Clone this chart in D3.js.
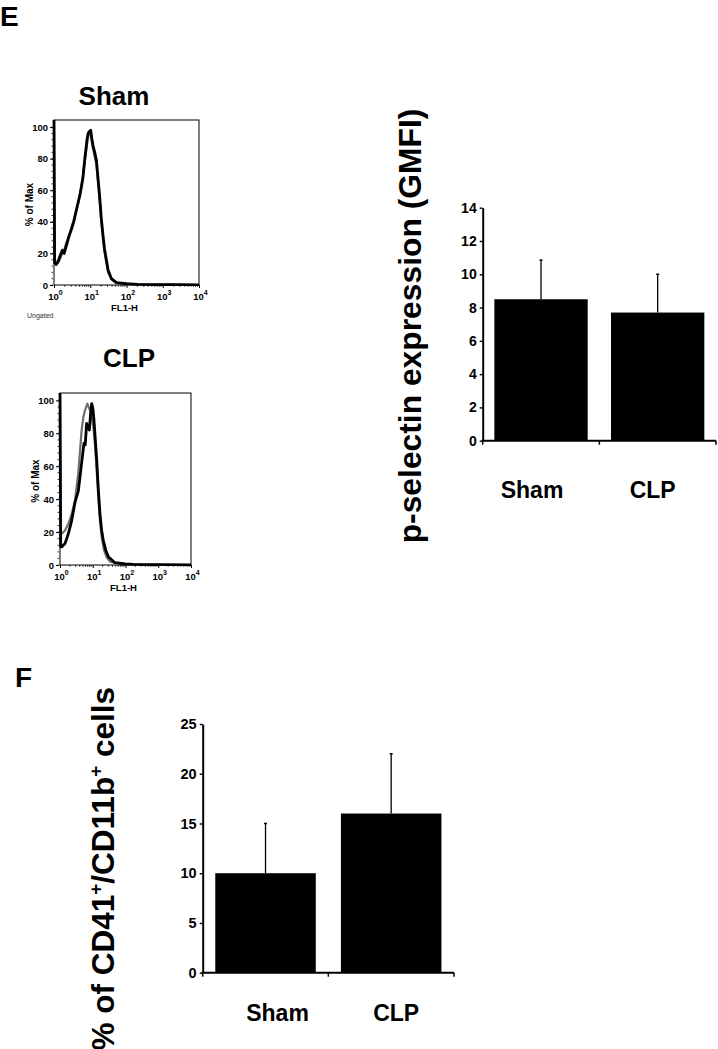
<!DOCTYPE html>
<html>
<head>
<meta charset="utf-8">
<script src="https://cdn.jsdelivr.net/npm/d3@7"></script>
<style>
  body { margin: 0; background: #fff; }
  svg { display: block; font-family: "Liberation Sans", Arial, sans-serif; }
</style>
</head>
<body>
<div id="chart"></div>
<script>
// Histogram curves: [FL1-H, % of Max]
const shamBlack = [[1,105],[1.04,14],[1.15,13],[1.3,15],[1.5,19],[1.7,22],[1.9,20],[2.2,25],[2.6,31],[3.0,35],[3.5,40],[4.0,46],[4.6,52],[5.2,57],[5.7,62],[6.3,68],[7.07,80],[7.6,86],[8.13,92],[8.7,96],[9.3,97],[10.3,98],[11,93],[12,88],[13.3,84],[14.8,79],[16.3,68],[18.2,56],[20.2,42],[22.6,31],[24.7,23],[26.9,18],[31,9.5],[38.5,4],[52.8,1.5],[100,0.8],[200,0.4],[700,0.3],[2000,0.2],[10000,0]];
const shamGray = [[1,105],[1.04,16],[1.15,14],[1.3,14],[1.5,17],[1.7,20],[1.9,22],[2.2,27],[2.6,31],[3.0,36],[3.5,41],[4.0,46],[4.6,51],[5.2,58],[5.7,63],[6.3,70],[7.07,78],[7.6,84],[8.13,89],[8.7,94],[9.3,96],[10.3,95],[11,91],[12,86],[13.3,81],[14.8,76],[16.3,66],[18.2,53],[20.2,40],[22.6,29],[24.7,21],[26.9,16],[31,8],[38.5,3.5],[52.8,1.2],[100,0.7],[200,0.3],[700,0.3],[2000,0.2],[10000,0]];
const clpBlack = [[1,105],[1.05,11],[1.12,11],[1.42,13],[1.8,19],[2.27,27],[2.87,38],[3.63,45],[4.58,62],[5.4,74],[5.9,73],[6.5,86],[7.2,84],[7.87,82],[8.6,92],[9.27,98],[10.1,95],[10.9,88],[12,76],[13.2,64],[14.8,46],[16.6,31],[18.7,21],[21,15],[25,9],[29.9,5],[47.7,1.4],[100,0.6],[174,0.4],[1000,0.2],[10000,0]];
const clpGray = [[1,105],[1.05,18],[1.12,19],[1.42,21],[1.8,25],[2.27,31],[2.87,39],[3.63,56],[4.58,82],[5.2,90],[5.8,94],[6.83,98],[7.5,96],[8.25,94],[9.3,90],[10.4,84],[11.8,72],[13.2,57],[14.8,41],[16.6,27],[19,16],[22,9],[27,4.5],[33.6,2],[68,0.5],[200,0.3],[10000,0]];

const histYTicks = [0, 20, 40, 60, 80, 100];
const histXTicks = [1, 10, 100, 1000, 10000];

// Bar charts
const groups = ['Sham', 'CLP'];
const gmfiMean = [8.5, 7.7];
const gmfiErr = [2.35, 2.3];
const gmfiTicks = [0, 2, 4, 6, 8, 10, 12, 14];
const cellsMean = [10.0, 16.0];
const cellsErr = [5.0, 6.0];
const cellsTicks = [0, 5, 10, 15, 20, 25];

const W = 718, H = 1049;
const svg = d3.select('#chart').append('svg').attr('width', W).attr('height', H);
const FONT = '"Liberation Sans", Arial, sans-serif';

function histogram(opts) {
    const g = svg.append('g');
    const x = d3.scaleLog().domain([1, 10000]).range([opts.left, opts.right]);
    const y = d3.scaleLinear().domain([0, 104.5]).range([opts.bottom, opts.top]);

    const clipId = 'clip-' + opts.id;
    svg.append('clipPath').attr('id', clipId)
        .append('rect')
        .attr('x', opts.left - 2).attr('y', opts.top)
        .attr('width', opts.right - opts.left + 2).attr('height', opts.bottom - opts.top + 1);

    // frame
    g.append('rect')
        .attr('x', opts.left).attr('y', opts.top)
        .attr('width', opts.right - opts.left).attr('height', opts.bottom - opts.top)
        .attr('fill', 'none').attr('stroke', '#000').attr('stroke-width', 1);

    const line = d3.line().x(d => x(d[0])).y(d => y(d[1]));
    const curves = g.append('g').attr('clip-path', `url(#${clipId})`);
    curves.append('path').datum(opts.gray)
        .attr('d', line).attr('fill', 'none').attr('stroke', '#6e6e6e').attr('stroke-width', 2.2)
        .attr('stroke-linejoin', 'round');
    curves.append('path').datum(opts.black)
        .attr('d', line).attr('fill', 'none').attr('stroke', '#000').attr('stroke-width', 2.8)
        .attr('stroke-linejoin', 'round');

    // y axis
    const ya = g.append('g').attr('transform', `translate(${opts.left - 1},0)`)
        .call(d3.axisLeft(y).tickValues(histYTicks).tickSize(3).tickPadding(2).tickSizeOuter(0));
    ya.select('.domain').remove();
    ya.selectAll('text').attr('font-family', FONT).attr('font-weight', 'bold').attr('font-size', 9.5);
    // minor y ticks
    g.append('g').selectAll('line').data(d3.range(0, 104, 4))
        .join('line')
        .attr('x1', opts.left - 2.5).attr('x2', opts.left - 1)
        .attr('y1', d => y(d)).attr('y2', d => y(d))
        .attr('stroke', '#000').attr('stroke-width', 0.8);

    // x axis
    const xa = g.append('g').attr('transform', `translate(0,${opts.bottom})`)
        .call(d3.axisBottom(x).tickValues(histXTicks).tickSize(3).tickFormat(''));
    xa.select('.domain').remove();
    const minor = [];
    [1, 10, 100, 1000].forEach(b => { for (let k = 2; k < 10; k++) minor.push(b * k); });
    g.append('g').selectAll('line').data(minor)
        .join('line')
        .attr('x1', d => x(d)).attr('x2', d => x(d))
        .attr('y1', opts.bottom).attr('y2', opts.bottom + 1.8)
        .attr('stroke', '#000').attr('stroke-width', 0.8);

    const labels = g.append('g').selectAll('text').data(histXTicks)
        .join('text')
        .attr('x', d => x(d) + 1.5)
        .attr('y', opts.bottom + 15)
        .attr('text-anchor', 'middle')
        .attr('font-family', FONT).attr('font-size', 9.5).attr('font-weight', 'bold');
    labels.append('tspan').text('10');
    labels.append('tspan').attr('dy', -5).attr('font-size', 7).text(d => Math.round(Math.log10(d)));

    g.append('text')
        .attr('x', (opts.left + opts.right) / 2 - 2)
        .attr('y', opts.bottom + 26)
        .attr('text-anchor', 'middle')
        .attr('font-family', FONT).attr('font-weight', 'bold').attr('font-size', 9.5)
        .text('FL1-H');

    g.append('text')
        .attr('transform', `translate(${opts.left - 21},${(opts.top + opts.bottom) / 2 + 2}) rotate(-90)`)
        .attr('text-anchor', 'middle')
        .attr('font-family', FONT).attr('font-weight', 'bold').attr('font-size', 10)
        .text('% of Max');

    g.append('text')
        .attr('x', opts.titleX).attr('y', opts.titleY)
        .attr('text-anchor', 'middle')
        .attr('font-family', FONT).attr('font-weight', 'bold').attr('font-size', 26)
        .text(opts.title);
}

histogram({ id: 'sham', left: 54, right: 199, top: 120, bottom: 285,
    black: shamBlack, gray: shamGray, title: 'Sham', titleX: 114, titleY: 105 });
histogram({ id: 'clp', left: 60, right: 191, top: 393, bottom: 565,
    black: clpBlack, gray: clpGray, title: 'CLP', titleX: 129, titleY: 367 });

svg.append('text')
    .attr('x', 27).attr('y', 318)
    .attr('font-family', FONT).attr('font-size', 7).attr('fill', '#333')
    .text('Ungated');

function barChart(opts) {
    const g = svg.append('g');
    const x = d3.scaleBand().domain(groups).range([opts.left, opts.right])
        .paddingInner(0.2).paddingOuter(0.1);
    const y = d3.scaleLinear().domain([0, opts.max]).range([opts.bottom, opts.top]);

    const rows = groups.map((k, i) => ({ k, v: opts.mean[i], e: opts.err[i], dx: opts.labelDx[i] }));

    g.selectAll('.bar').data(rows).join('rect')
        .attr('x', d => x(d.k)).attr('y', d => y(d.v))
        .attr('width', x.bandwidth()).attr('height', d => y(0) - y(d.v))
        .attr('fill', '#000');

    // error bars (upper only)
    const eb = g.selectAll('.err').data(rows).join('g');
    eb.append('line')
        .attr('x1', d => x(d.k) + x.bandwidth() / 2).attr('x2', d => x(d.k) + x.bandwidth() / 2)
        .attr('y1', d => y(d.v)).attr('y2', d => y(d.v + d.e))
        .attr('stroke', '#000').attr('stroke-width', 1.3);
    eb.append('line')
        .attr('x1', d => x(d.k) + x.bandwidth() / 2 - 1.5).attr('x2', d => x(d.k) + x.bandwidth() / 2 + 1.5)
        .attr('y1', d => y(d.v + d.e)).attr('y2', d => y(d.v + d.e))
        .attr('stroke', '#000').attr('stroke-width', 1.5);

    const ya = g.append('g').attr('transform', `translate(${opts.left},0)`)
        .call(d3.axisLeft(y).tickValues(opts.ticks).tickSize(3).tickPadding(3).tickSizeOuter(0));
    ya.select('.domain').attr('stroke-width', 2);
    ya.selectAll('.tick line').attr('stroke-width', 1.4);
    ya.selectAll('text').attr('font-family', FONT).attr('font-weight', 'bold')
        .attr('font-size', opts.tickFont).attr('fill', '#000');

    // x axis with ticks at band boundaries
    const step = x.step();
    const xt = [opts.left, x('CLP') - step * x.paddingInner() / 2, opts.right];
    g.append('line')
        .attr('x1', opts.left - 1).attr('x2', opts.right)
        .attr('y1', y(0)).attr('y2', y(0))
        .attr('stroke', '#000').attr('stroke-width', 2);
    g.append('g').selectAll('line').data(xt).join('line')
        .attr('x1', d => d).attr('x2', d => d)
        .attr('y1', y(0)).attr('y2', y(0) + 4)
        .attr('stroke', '#000').attr('stroke-width', 1.5);

    g.selectAll('.cat').data(rows).join('text')
        .attr('x', d => x(d.k) + x.bandwidth() / 2 + d.dx)
        .attr('y', opts.labelY)
        .attr('text-anchor', 'middle')
        .attr('font-family', FONT).attr('font-weight', 'bold').attr('font-size', 23)
        .text(d => d.k);

    const yl = g.append('text')
        .attr('transform', `translate(${opts.ylabelX},${opts.ylabelY}) rotate(-90)`)
        .attr('text-anchor', opts.ylabelAnchor)
        .attr('font-family', FONT).attr('font-weight', 'bold').attr('font-size', opts.ylabelFont);
    opts.ylabel.forEach(p => {
        const t = yl.append('tspan').text(p.t);
        if (p.sup) t.attr('font-size', opts.ylabelFont * 0.6).attr('dy', -opts.ylabelFont * 0.38);
        if (p.down) t.attr('dy', opts.ylabelFont * 0.38);
    });
}

barChart({ left: 482.7, right: 716, top: 207.7, bottom: 440.7, max: 14,
    mean: gmfiMean, err: gmfiErr, ticks: gmfiTicks, tickFont: 14,
    labelDx: [-9, -5], labelY: 498,
    ylabel: [{ t: 'p-selectin expression (GMFI)' }],
    ylabelX: 421, ylabelY: 326, ylabelAnchor: 'middle', ylabelFont: 31.8 });

barChart({ left: 202.7, right: 454, top: 724, bottom: 972.7, max: 25,
    mean: cellsMean, err: cellsErr, ticks: cellsTicks, tickFont: 14.5,
    labelDx: [12, 5], labelY: 1021,
    ylabel: [{ t: '% of CD41' }, { t: '+', sup: true }, { t: '/CD11b', down: true }, { t: '+', sup: true }, { t: ' cells', down: true }],
    ylabelX: 114, ylabelY: 687, ylabelAnchor: 'end', ylabelFont: 31.5 });

// panel letters
svg.append('text').attr('x', 0).attr('y', 26)
    .attr('font-family', FONT).attr('font-weight', 'bold').attr('font-size', 28).text('E');
svg.append('text').attr('x', 15).attr('y', 687)
    .attr('font-family', FONT).attr('font-weight', 'bold').attr('font-size', 28).text('F');
</script>
</body>
</html>
